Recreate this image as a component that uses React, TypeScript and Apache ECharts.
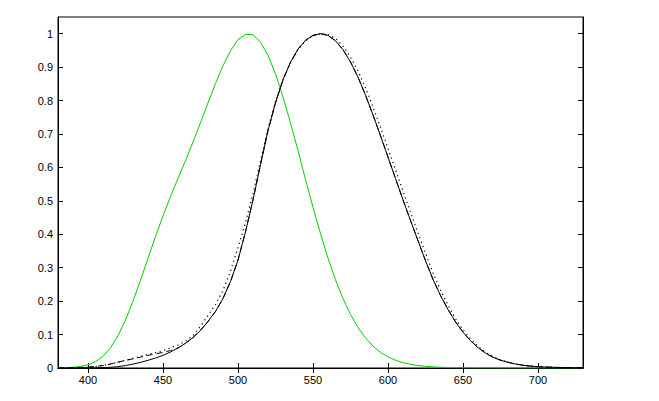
import React, { useEffect, useRef } from "react";
import * as echarts from "echarts";

const wavelengths = [
  380, 385, 390, 395, 400, 405, 410, 415, 420, 425, 430, 435, 440, 445, 450, 455,
  460, 465, 470, 475, 480, 485, 490, 495, 500, 505, 510, 515, 520, 525, 530, 535,
  540, 545, 550, 555, 560, 565, 570, 575, 580, 585, 590, 595, 600, 605, 610, 615,
  620, 625, 630, 635, 640, 645, 650, 655, 660, 665, 670, 675, 680, 685, 690, 695,
  700, 705, 710, 715, 720, 725, 730,
];

// Scotopic (green)
const scotopic = [
  0.000589, 0.001108, 0.002209, 0.00453, 0.00929, 0.01852, 0.03484, 0.0604, 0.0966,
  0.1436, 0.1998, 0.2625, 0.3281, 0.3931, 0.455, 0.513, 0.567, 0.62, 0.676, 0.734,
  0.793, 0.851, 0.904, 0.949, 0.982, 0.998, 0.997, 0.975, 0.935, 0.88, 0.811, 0.733,
  0.65, 0.564, 0.481, 0.402, 0.3288, 0.2639, 0.2076, 0.1602, 0.1212, 0.0899, 0.0655,
  0.0469, 0.03315, 0.0231, 0.01593, 0.01088, 0.00737, 0.00497, 0.003335, 0.002235,
  0.001497, 0.001005, 0.000677, 0.000459, 0.000313, 0.000215, 0.000148, 0.000103,
  0.0000715, 0.00005, 0.0000353, 0.000025, 0.0000178, 0.0000127, 0.00000914,
  0.0000066, 0.00000478, 0.00000346, 0.00000251,
];

// Photopic CIE 1931 (solid)
const photopicCIE = [
  0.000039, 0.000064, 0.00012, 0.000217, 0.000396, 0.00064, 0.00121, 0.00218, 0.004,
  0.0073, 0.0116, 0.01684, 0.023, 0.0298, 0.038, 0.048, 0.06, 0.0739, 0.09098, 0.1126,
  0.13902, 0.1693, 0.20802, 0.2586, 0.323, 0.4073, 0.503, 0.6082, 0.71, 0.7932, 0.862,
  0.91485, 0.954, 0.9803, 0.99495, 1.0, 0.995, 0.9786, 0.952, 0.9154, 0.87, 0.8163,
  0.757, 0.6949, 0.631, 0.5668, 0.503, 0.4412, 0.381, 0.321, 0.265, 0.217, 0.175,
  0.1382, 0.107, 0.0816, 0.061, 0.04458, 0.032, 0.0232, 0.017, 0.01192, 0.00821,
  0.005723, 0.004102, 0.002929, 0.002091, 0.001484, 0.001047, 0.00074, 0.00052,
];

// Judd-Vos 1978 (dashed)
const photopicJuddVos = [
  0.0002, 0.000396, 0.0008, 0.00155, 0.0028, 0.00466, 0.0074, 0.0118, 0.0175, 0.0227,
  0.0273, 0.0326, 0.0379, 0.0424, 0.0468, 0.0521, 0.06, 0.0739, 0.09098, 0.1126,
  0.13902, 0.1693, 0.20802, 0.2586, 0.323, 0.4073, 0.503, 0.6082, 0.71, 0.7932, 0.862,
  0.91485, 0.954, 0.9803, 0.99495, 1.0, 0.995, 0.9786, 0.952, 0.9154, 0.87, 0.8163,
  0.757, 0.6949, 0.631, 0.5668, 0.503, 0.4412, 0.381, 0.321, 0.265, 0.217, 0.175,
  0.1382, 0.107, 0.0816, 0.061, 0.04458, 0.032, 0.0232, 0.017, 0.01192, 0.00821,
  0.005723, 0.004102, 0.002929, 0.002091, 0.001484, 0.001047, 0.00074, 0.00052,
];

// Sharpe et al. 2005 (dotted)
const photopicSharpe = [
  0.0001, 0.0002, 0.0004, 0.001, 0.0022, 0.0045, 0.008, 0.012, 0.017, 0.023, 0.029,
  0.035, 0.041, 0.046, 0.052, 0.06, 0.069, 0.08, 0.097, 0.125, 0.157, 0.19, 0.232,
  0.29, 0.36, 0.435, 0.522, 0.62, 0.716, 0.797, 0.864, 0.914, 0.952, 0.979, 0.994, 1.0,
  0.998, 0.986, 0.963, 0.93, 0.889, 0.838, 0.781, 0.72, 0.657, 0.593, 0.529, 0.466,
  0.404, 0.343, 0.285, 0.233, 0.188, 0.148, 0.114, 0.087, 0.065, 0.047, 0.034, 0.0245,
  0.0175, 0.0123, 0.0085, 0.0058, 0.004, 0.0027, 0.0018, 0.0012, 0.0008, 0.0005, 0.0003,
];

const xTicks = [400, 450, 500, 550, 600, 650, 700];
const yTicks = [0, 0.1, 0.2, 0.3, 0.4, 0.5, 0.6, 0.7, 0.8, 0.9, 1];

const pairs = (ys: number[]) => wavelengths.map((x, i) => [x, ys[i]]);

export default function App() {
  const ref = useRef<HTMLDivElement>(null);
  useEffect(() => {
    if (!ref.current) return;
    const chart = echarts.init(ref.current, null, { renderer: "svg" });
    const font = { fontFamily: "Liberation Sans, Arial, sans-serif", fontSize: 11, color: "#000" };
    const axisLine = { show: true, lineStyle: { color: "#000", width: 1 } };
    const tick = { show: true, inside: true, length: 5, lineStyle: { color: "#000", width: 1 } };
    const fmtY = (v: number) => {
      const r = Math.round(v * 10) / 10;
      if (Math.abs(r - v) > 1e-6 || v > 1.0001) return "";
      return String(r);
    };
    chart.setOption({
      animation: false,
      backgroundColor: "#fff",
      grid: {
        left: 58,
        right: 76,
        top: 17,
        bottom: 33,
        containLabel: false,
        show: true,
        borderColor: "#000",
        borderWidth: 1,
        backgroundColor: "transparent",
      },
      xAxis: [
        {
          type: "value",
          min: 380,
          max: 730,
          position: "bottom",
          axisLine,
          axisTick: { ...tick, customValues: xTicks },
          axisLabel: { ...font, margin: 6, customValues: xTicks },
          splitLine: { show: false },
        },
        {
          type: "value",
          min: 380,
          max: 730,
          position: "top",
          axisLine,
          axisTick: { ...tick, customValues: xTicks },
          axisLabel: { show: false },
          splitLine: { show: false },
        },
      ],
      yAxis: [
        {
          type: "value",
          min: 0,
          max: 1.05,
          interval: 0.1,
          position: "left",
          axisLine,
          axisTick: { ...tick, customValues: yTicks },
          axisLabel: { ...font, margin: 5, customValues: yTicks, formatter: fmtY },
          splitLine: { show: false },
        },
        {
          type: "value",
          min: 0,
          max: 1.05,
          interval: 0.1,
          position: "right",
          axisLine,
          axisTick: { ...tick, customValues: yTicks },
          axisLabel: { show: false },
          splitLine: { show: false },
        },
      ],
      series: [
        {
          name: "Scotopic",
          type: "line",
          data: pairs(scotopic),
          showSymbol: false,
          lineStyle: { color: "#00d000", width: 1 },
          z: 2,
        },
        {
          name: "CIE 1931",
          type: "line",
          data: pairs(photopicCIE),
          showSymbol: false,
          lineStyle: { color: "#000", width: 1 },
          z: 3,
        },
        {
          name: "Judd-Vos",
          type: "line",
          data: pairs(photopicJuddVos),
          showSymbol: false,
          lineStyle: { color: "#000", width: 1, type: [6, 4] },
          z: 3,
        },
        {
          name: "Sharpe 2005",
          type: "line",
          data: pairs(photopicSharpe),
          showSymbol: false,
          lineStyle: { color: "#000", width: 1.2, type: [1.2, 3.5] },
          z: 3,
        },
      ],
    });
    return () => chart.dispose();
  }, []);
  return (
    <div
      ref={ref}
      style={{ position: "fixed", left: 0, top: 0, width: 659, height: 401, background: "#fff" }}
    />
  );
}
